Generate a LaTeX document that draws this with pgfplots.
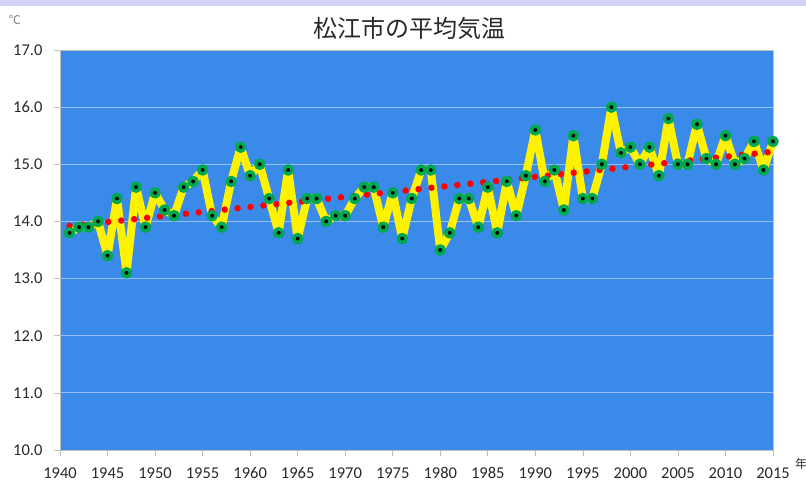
\documentclass[border=0pt]{standalone}
\usepackage{fontspec}
\setmainfont{Carlito}
\newfontfamily\cjk{Noto Sans CJK JP}
\usepackage{pgfplots}
\pgfplotsset{compat=1.18}
\definecolor{plotblue}{RGB}{58,138,234}
\definecolor{gridc}{RGB}{150,190,242}
\definecolor{mgreen}{RGB}{0,168,80}
\definecolor{lav}{RGB}{210,210,248}
\definecolor{txt}{RGB}{40,40,40}
\begin{document}
\begin{tikzpicture}[x=1pt,y=1pt]
\useasboundingbox (-60,-32) rectangle (746,450);
\fill[lav] (-60,444) rectangle (746,450);
\begin{axis}[at={(0,0)}, anchor=south west, scale only axis,
  width=713pt, height=400pt,
  xmin=1940, xmax=2015, ymin=10, ymax=17,
  xtick={1940,1945,...,2015}, ytick={10,11,...,17},
  axis background/.style={fill=plotblue},
  axis line style={draw=gray!50},
  ymajorgrids, grid style={gridc, line width=0.9pt},
  tick align=outside, major tick length=6pt,
  tick style={gray!50, line width=0.6pt},
  xtick pos=bottom, ytick pos=left,
  clip=false,
  /pgf/number format/assume math mode=true,
  xticklabel style={/pgf/number format/1000 sep={}, font=\fontsize{16.5}{18}\selectfont, text=txt, yshift=-8pt},
  yticklabel style={/pgf/number format/fixed, /pgf/number format/fixed zerofill, /pgf/number format/precision=1, font=\fontsize{16.5}{18}\selectfont, text=txt, xshift=-8pt},
]
\addplot[yellow, line width=8pt, line join=round, mark=*, mark size=4pt,
  mark options={solid, draw=mgreen, fill=black, line width=3.5pt}] coordinates {
(1941,13.8)(1942,13.9)(1943,13.9)(1944,14.0)(1945,13.4)(1946,14.4)(1947,13.1)(1948,14.6)(1949,13.9)(1950,14.5)
(1951,14.2)(1952,14.1)(1953,14.6)(1954,14.7)(1955,14.9)(1956,14.1)(1957,13.9)(1958,14.7)(1959,15.3)(1960,14.8)
(1961,15.0)(1962,14.4)(1963,13.8)(1964,14.9)(1965,13.7)(1966,14.4)(1967,14.4)(1968,14.0)(1969,14.1)(1970,14.1)
(1971,14.4)(1972,14.6)(1973,14.6)(1974,13.9)(1975,14.5)(1976,13.7)(1977,14.4)(1978,14.9)(1979,14.9)(1980,13.5)
(1981,13.8)(1982,14.4)(1983,14.4)(1984,13.9)(1985,14.6)(1986,13.8)(1987,14.7)(1988,14.1)(1989,14.8)(1990,15.6)
(1991,14.7)(1992,14.9)(1993,14.2)(1994,15.5)(1995,14.4)(1996,14.4)(1997,15.0)(1998,16.0)(1999,15.2)(2000,15.3)
(2001,15.0)(2002,15.3)(2003,14.8)(2004,15.8)(2005,15.0)(2006,15.0)(2007,15.7)(2008,15.1)(2009,15.0)(2010,15.5)
(2011,15.0)(2012,15.1)(2013,15.4)(2014,14.9)(2015,15.4)};
\addplot[red, line width=6.5pt, line cap=round, dash pattern=on 0pt off 13pt] coordinates {(1941,13.92)(2015,15.22)};
\end{axis}
\node[font=\cjk\fontsize{24}{26}\selectfont, text=txt] at (349,422) {松江市の平均気温};
\node[font=\cjk\fontsize{12}{14}\selectfont, text=gray] at (-45,430) {℃};
\node[font=\cjk\fontsize{12}{14}\selectfont, text=txt] at (741,-14) {年};
\end{tikzpicture}
\end{document}
